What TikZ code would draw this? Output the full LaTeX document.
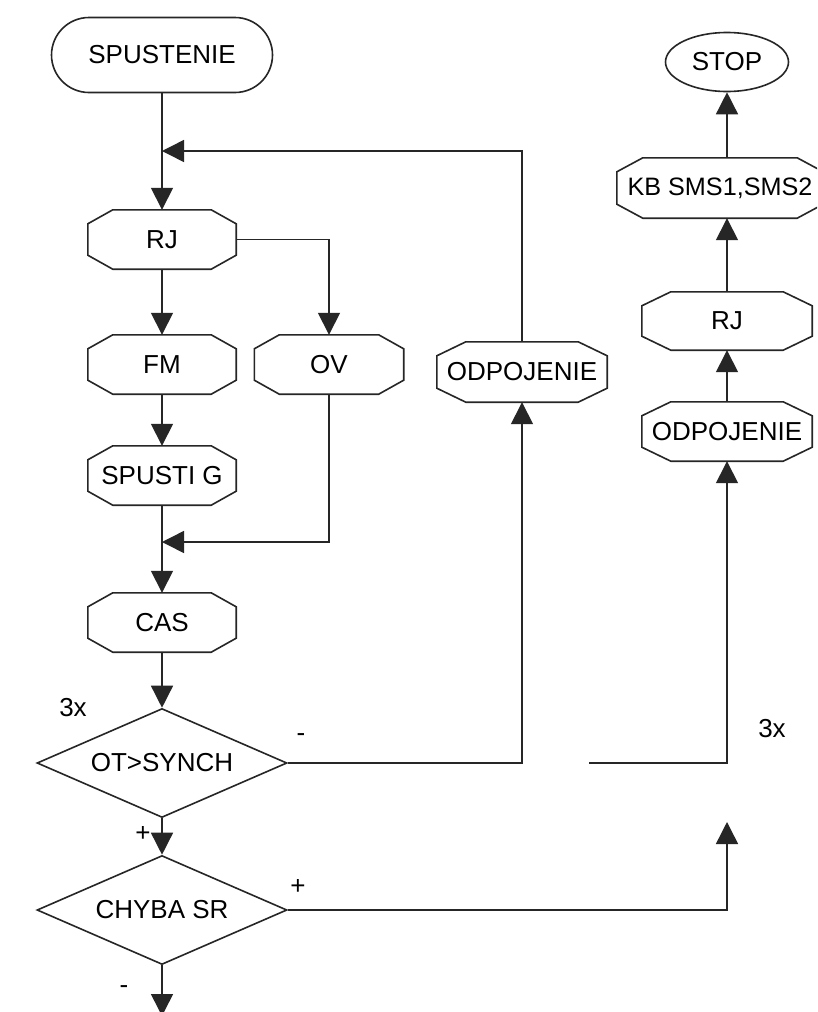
\documentclass[tikz,border=0pt]{standalone}
\usepackage{fontspec}
\setmainfont{Liberation Sans}
\usetikzlibrary{arrows.meta,shapes.geometric,shapes.misc,calc}

% octagonal process box drawn around a named (invisible) rectangle node
% #1 node name, #2 horizontal chamfer
\newcommand\octframe[2]{%
  \draw[boxline]
    ([xshift=#2]#1.north west) -- ([xshift=-#2]#1.north east)
    -- ([yshift=-14pt]#1.north east) -- ([yshift=14pt]#1.south east)
    -- ([xshift=-#2]#1.south east) -- ([xshift=#2]#1.south west)
    -- ([yshift=14pt]#1.south west) -- ([yshift=-14pt]#1.north west) -- cycle;}

\begin{document}
\begin{tikzpicture}[x=1pt,y=-1pt,
  every node/.style={font=\fontsize{26}{31}\selectfont, text=black},
  line/.style={line width=1.5pt, draw=black!85},
  boxline/.style={line width=1.6pt, draw=black!85},
  flow/.style={line, -{Triangle[length=22pt,width=22pt]}},
  octbase/.style={rectangle, draw=none, inner sep=0pt, minimum height=59pt},
  terminal/.style={rounded rectangle, draw=black!85, line width=1.6pt,
    minimum width=221pt, minimum height=75pt, inner sep=0pt},
  stopshape/.style={ellipse, draw=black!85, line width=1.6pt,
    minimum width=123pt, minimum height=59pt, inner sep=0pt},
  decision/.style={diamond, aspect=2.29, draw=black!85, line width=1.6pt,
    minimum width=250pt, minimum height=109pt, inner sep=0pt},
  tag/.style={inner sep=0pt}
]
\useasboundingbox (0,0) rectangle (817,1012);
\clip (0,0) rectangle (817,1012);
\fill[white] (0,0) rectangle (817,1012);

% left column
\node[terminal] (start) at (162,55) {SPUSTENIE};
\node[octbase, minimum width=148pt] (rj) at (162,239.5) {RJ};
\node[octbase, minimum width=148pt] (fm) at (162,364.5) {FM};
\node[octbase, minimum width=149pt] (ov) at (329,364.5) {OV};
\node[octbase, minimum width=148pt] (spg) at (162,475.5) {SPUSTI G};
\node[octbase, minimum width=148pt] (cas) at (162,622.5) {CAS};
\node[decision] (sync) at (162,763) {OT>SYNCH};
\node[decision] (err) at (162,910) {CHYBA SR};

% middle and right columns
\node[octbase, minimum width=170pt, minimum height=60pt] (odpa) at (522,372) {ODPOJENIE};
\node[octbase, minimum width=170pt] (odpb) at (727,431.5) {ODPOJENIE};
\node[octbase, minimum width=170pt, minimum height=58pt] (rjb) at (727,321) {RJ};
\node[octbase, minimum width=206pt, minimum height=60pt,
      font=\fontsize{25.2}{30}\selectfont] (kb) at (720,188) {KB SMS1,SMS2};
\node[stopshape] (stop) at (727,62) {STOP};

\octframe{rj}{25pt}
\octframe{fm}{25pt}
\octframe{ov}{25pt}
\octframe{spg}{25pt}
\octframe{cas}{25pt}
\octframe{odpa}{29pt}
\octframe{odpb}{29pt}
\octframe{rjb}{29pt}
\octframe{kb}{26pt}

% junctions and free ends
\coordinate (jtop) at (162,151);
\coordinate (jmid) at (162,542);
\coordinate (ptop) at (727,822);
\coordinate (pfree) at (589,763);
\coordinate (pend) at (162,1016);

% connectors
\draw[flow] (start.south) -- (rj.north);
\draw[flow] (odpa.north) |- (jtop);
\draw[flow] (rj.east) -| (ov.north);
\draw[flow] (rj.south) -- (fm.north);
\draw[flow] (fm.south) -- (spg.north);
\draw[flow] (ov.south) |- (jmid);
\draw[flow] (spg.south) -- (cas.north);
\draw[flow] (cas.south) -- (sync.north);
\draw[flow] (sync.east) -| (odpa.south);
\draw[flow] (sync.south) -- (err.north);
\draw[flow] (err.east) -| (ptop);
\draw[flow] (err.south) -- (pend);
\draw[flow] (pfree) -| (odpb.south);
\draw[flow] (odpb.north) -- (rjb.south);
\draw[flow] (rjb.north) -- (rjb.north |- kb.south);
\draw[flow] (stop.south |- kb.north) -- (stop.south);

% branch labels
\node[tag] (cnta) at (73,708) {3x};
\node[tag] (cntb) at (772,729) {3x};
\node[tag] (syncno) at (301,738) {-};
\node[tag] (syncyes) at (143,834) {+};
\node[tag] (erryes) at (298,887) {+};
\node[tag] (errno) at (124,990) {-};
\end{tikzpicture}
\end{document}
